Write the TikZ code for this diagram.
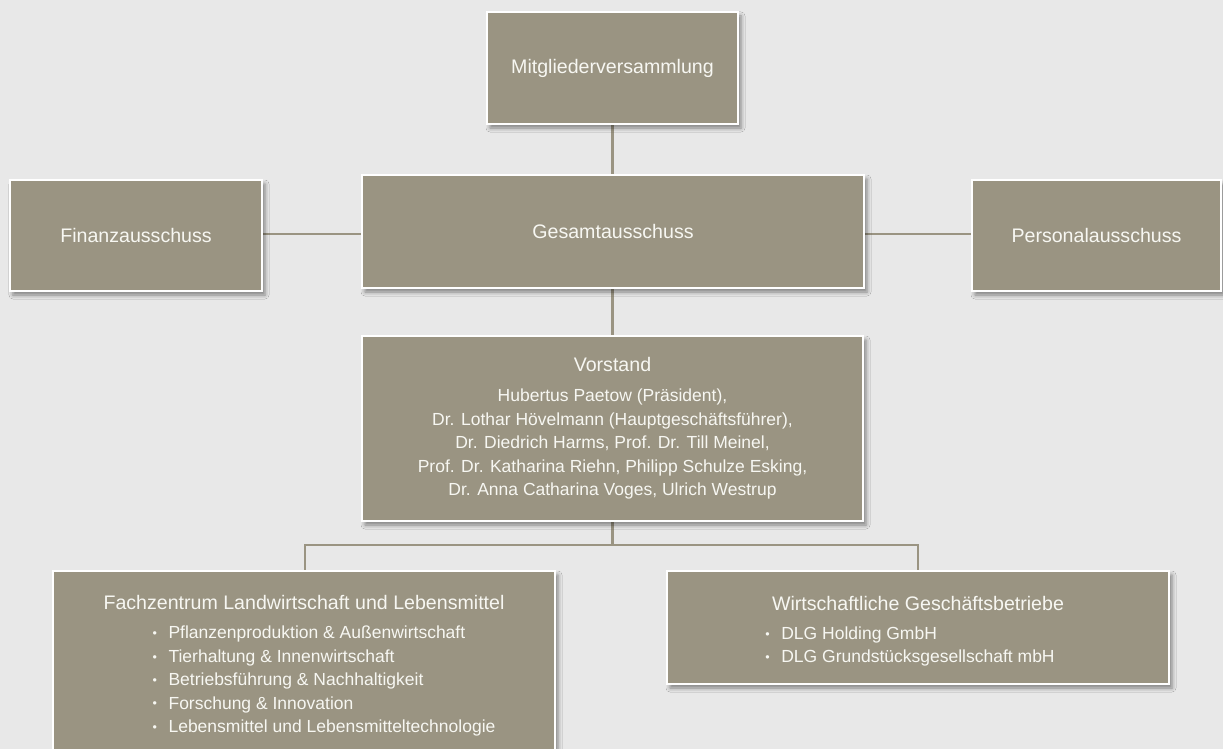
\documentclass[tikz,border=0pt]{standalone}
\usepackage{fontspec}
\setmainfont{Liberation Sans}
\usetikzlibrary{shadows.blur}
\definecolor{bg}{HTML}{E8E8E8}
\definecolor{boxc}{HTML}{9A9482}
\definecolor{linec}{HTML}{9A9482}
\definecolor{txt}{HTML}{F7F7F2}
\newcommand{\tfont}{\fontsize{19.6}{23.5}\selectfont}
\newcommand{\lfont}{\fontsize{17.5}{23.4}\selectfont}
\newcommand{\bul}{\makebox[16pt][l]{\raisebox{1.2pt}{\fontsize{12.5}{12.5}\selectfont •}}}
\tikzset{
  orgbox/.style={draw=white, line width=1.5pt, fill=boxc, text=txt, inner sep=0pt,
    align=center, font=\tfont,
    blur shadow={shadow xshift=3pt, shadow yshift=-4pt, shadow blur radius=4pt, shadow opacity=45}},
  conn/.style={draw=linec, line width=2.5pt}
}
\begin{document}
\begin{tikzpicture}[x=1pt,y=-1pt]
\useasboundingbox (0,0) rectangle (1223,749);
\clip (0,0) rectangle (1223,749);
\fill[bg] (0,0) rectangle (1223,749);

% connectors first (behind boxes)
\coordinate (mvb) at (612.5,124);
\coordinate (gest) at (612.5,175);
\coordinate (finr) at (262,234);
\coordinate (gesl) at (362,234);
\coordinate (gesr) at (864,234);
\coordinate (persl) at (972,234);
\coordinate (gesb) at (612.5,288);
\coordinate (vort) at (612.5,336);
\coordinate (vorb) at (612.5,521);
\coordinate (split) at (612.5,545);
\coordinate (fzt) at (305,571);
\coordinate (wgt) at (918,571);
\draw[conn] (mvb) -- (gest);
\draw[conn] (finr) -- (gesl);
\draw[conn] (gesr) -- (persl);
\draw[conn] (gesb) -- (vort);
\draw[conn] (vorb) -- (split);
\draw[conn] (fzt) |- (split) -| (wgt);

% boxes
\node[orgbox, minimum width=251pt, minimum height=112pt] (mv) at (612.5,68) {\raisebox{-3pt}{Mitgliederversammlung}};
\node[orgbox, minimum width=252pt, minimum height=111pt] (fin) at (136,235.5) {Finanzausschuss};
\node[orgbox, minimum width=502pt, minimum height=113pt] (ges) at (613,231.5) {Gesamtausschuss};
\node[orgbox, minimum width=249pt, minimum height=111pt] (pers) at (1096.5,235.5) {Personalausschuss};
\node[orgbox, minimum width=501pt, minimum height=185pt] (vor) at (612.5,428.5)
  {Vorstand\\[6.5pt]
   \lfont Hubertus Paetow (Präsident),\\
   \lfont Dr. Lothar Hövelmann (Hauptgeschäftsführer),\\
   \lfont Dr. Diedrich Harms, Prof. Dr. Till Meinel,\\
   \lfont Prof. Dr. Katharina Riehn, Philipp Schulze Esking,\\
   \lfont Dr. Anna Catharina Voges, Ulrich Westrup};
\node[orgbox, minimum width=502pt, minimum height=190pt] (fz) at (304,666)
  {\rule{0pt}{17pt}Fachzentrum Landwirtschaft und Lebensmittel\\[6pt]
   \lfont\hspace*{40pt}\begin{tabular}[t]{@{}l@{}}
   \bul Pflanzenproduktion \& Außenwirtschaft\\
   \bul Tierhaltung \& Innenwirtschaft\\
   \bul Betriebsführung \& Nachhaltigkeit\\
   \bul Forschung \& Innovation\\
   \bul Lebensmittel und Lebensmitteltechnologie
   \end{tabular}};
\node[orgbox, minimum width=502pt, minimum height=113pt] (wg) at (918,627.5)
  {\rule{0pt}{25pt}Wirtschaftliche Geschäftsbetriebe\\[6pt]
   \lfont\begin{tabular}[t]{@{}l@{}}
   \bul DLG Holding GmbH\\
   \bul DLG Grundstücksgesellschaft mbH
   \end{tabular}\hspace*{16pt}};
\end{tikzpicture}
\end{document}
